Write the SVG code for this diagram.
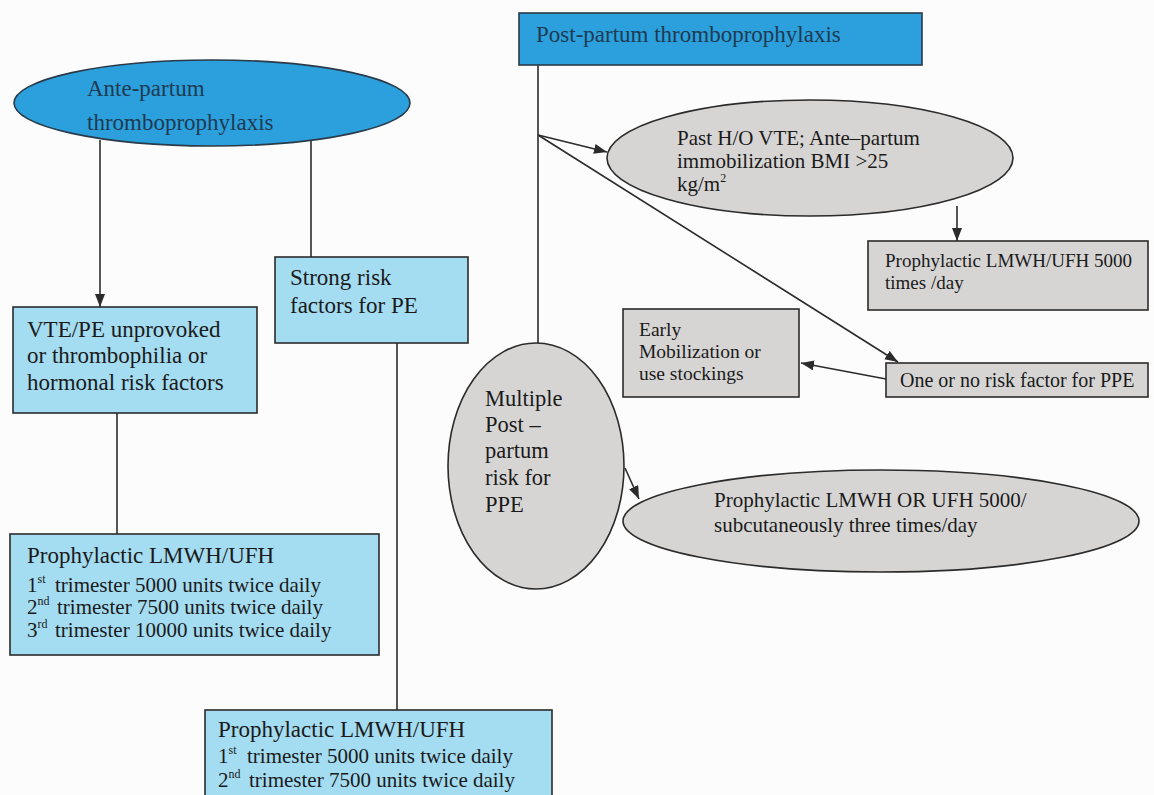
<svg xmlns="http://www.w3.org/2000/svg" width="1154" height="795" viewBox="0 0 1154 795">
<defs>
<style>
.t{font-family:"Liberation Serif","Times New Roman",serif;fill:#1a1a1a}
.tb{font-family:"Liberation Serif","Times New Roman",serif;fill:#1f3a52}
.blue{fill:#2ba0dc;stroke:#2a3a48;stroke-width:1.6}
.lb{fill:#a4dcf1;stroke:#2b2b2b;stroke-width:1.6}
.gr{fill:#d6d5d4;stroke:#2b2b2b;stroke-width:1.6}
.c{fill:none;stroke:#2b2b2b;stroke-width:1.6}
.sup{font-size:12px}
</style>
<marker id="ah" markerUnits="userSpaceOnUse" markerWidth="14" markerHeight="12" refX="13" refY="5" orient="auto">
<path d="M0,0 L13,5 L0,10 z" fill="#2b2b2b"/>
</marker>
</defs>
<rect width="1154" height="795" fill="#fcfcfc"/>

<g id="connectors">
<path class="c" d="M100,140 V307" marker-end="url(#ah)"/>
<path class="c" d="M311,140 V257"/>
<path class="c" d="M117,413 V534"/>
<path class="c" d="M397,343 V710"/>
<path class="c" d="M538,65 V343"/>
<path class="c" d="M538,135 L607,152" marker-end="url(#ah)"/>
<path class="c" d="M538,135 L898,362" marker-end="url(#ah)"/>
<path class="c" d="M957,206 V241" marker-end="url(#ah)"/>
<path class="c" d="M886,379 L801,363" marker-end="url(#ah)"/>
<path class="c" d="M625,468 L639,499" marker-end="url(#ah)"/>
</g>

<g id="ante">
<ellipse class="blue" cx="212" cy="103" rx="198" ry="43"/>
<text class="tb" font-size="23"><tspan x="87" y="96">Ante-partum</tspan><tspan x="87" y="130">thromboprophylaxis</tspan></text>
</g>

<g id="vte">
<rect class="lb" x="13" y="307" width="244" height="106"/>
<text class="t" font-size="23"><tspan x="27" y="337">VTE/PE unprovoked</tspan><tspan x="27" y="363">or thrombophilia or</tspan><tspan x="27" y="390">hormonal risk factors</tspan></text>
</g>

<g id="strong">
<rect class="lb" x="275" y="257" width="193" height="86"/>
<text class="t" font-size="23"><tspan x="290" y="285">Strong risk</tspan><tspan x="290" y="313">factors for PE</tspan></text>
</g>

<g id="proph1">
<rect class="lb" x="10" y="534" width="369" height="121"/>
<text class="t" font-size="23" x="27" y="563">Prophylactic LMWH/UFH</text>
<text class="t" font-size="21" x="27" y="592">1<tspan class="sup" dy="-9">st</tspan></text>
<text class="t" font-size="21" x="55" y="592">trimester 5000 units twice daily</text>
<text class="t" font-size="21" x="27" y="614">2<tspan class="sup" dy="-9">nd</tspan></text>
<text class="t" font-size="21" x="57" y="614">trimester 7500 units twice daily</text>
<text class="t" font-size="21" x="27" y="637">3<tspan class="sup" dy="-9">rd</tspan></text>
<text class="t" font-size="21" x="55" y="637">trimester 10000 units twice daily</text>
</g>

<g id="proph2">
<rect class="lb" x="205" y="710" width="347" height="100"/>
<text class="t" font-size="23" x="218" y="737">Prophylactic LMWH/UFH</text>
<text class="t" font-size="21" x="218" y="763">1<tspan class="sup" dy="-9">st</tspan></text>
<text class="t" font-size="21" x="247" y="763">trimester 5000 units twice daily</text>
<text class="t" font-size="21" x="218" y="787">2<tspan class="sup" dy="-9">nd</tspan></text>
<text class="t" font-size="21" x="249" y="787">trimester 7500 units twice daily</text>
</g>

<g id="post">
<rect class="blue" x="519" y="13" width="403" height="52"/>
<text class="tb" font-size="23" x="536" y="42">Post-partum thromboprophylaxis</text>
</g>

<g id="pasthx">
<ellipse class="gr" cx="810" cy="158" rx="203" ry="58"/>
<text class="t" font-size="21"><tspan x="677" y="145">Past H/O VTE; Ante–partum</tspan><tspan x="677" y="168">immobilization BMI &gt;25</tspan><tspan x="677" y="191">kg/m<tspan font-size="12" dy="-9">2</tspan></tspan></text>
</g>

<g id="proph5000">
<rect class="gr" x="868" y="241" width="280" height="69"/>
<text class="t" font-size="19"><tspan x="885" y="267">Prophylactic LMWH/UFH 5000</tspan><tspan x="885" y="289">times /day</tspan></text>
</g>

<g id="early">
<rect class="gr" x="623" y="309" width="176" height="88"/>
<text class="t" font-size="19.5"><tspan x="639" y="336">Early</tspan><tspan x="639" y="358">Mobilization or</tspan><tspan x="639" y="380">use stockings</tspan></text>
</g>

<g id="oneorno">
<rect class="gr" x="886" y="363" width="262" height="34"/>
<text class="t" font-size="20" x="900" y="387">One or no risk factor for PPE</text>
</g>

<g id="multiple">
<ellipse class="gr" cx="536" cy="466" rx="88" ry="123"/>
<text class="t" font-size="22.5"><tspan x="485" y="406">Multiple</tspan><tspan x="485" y="432">Post –</tspan><tspan x="485" y="458">partum</tspan><tspan x="485" y="485">risk for</tspan><tspan x="485" y="512">PPE</tspan></text>
</g>

<g id="lmwhor">
<ellipse class="gr" cx="881" cy="521" rx="258" ry="51"/>
<text class="t" font-size="21"><tspan x="714" y="507">Prophylactic LMWH OR UFH 5000/</tspan><tspan x="714" y="532">subcutaneously three times/day</tspan></text>
</g>
</svg>
